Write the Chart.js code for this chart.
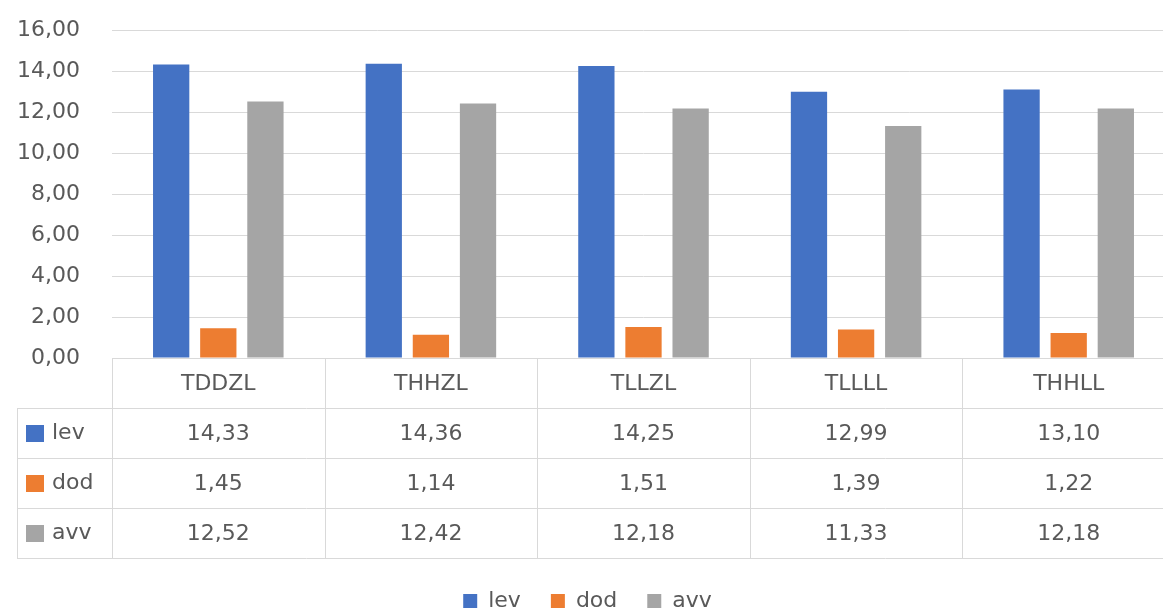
<!DOCTYPE html>
<html>
<head>
<meta charset="utf-8">
<script src="https://cdn.jsdelivr.net/npm/chart.js@4.4.1/dist/chart.umd.min.js"></script>
<style>
  html, body { margin: 0; padding: 0; background: #fff; overflow: hidden; }
  #wrap { width: 1180px; height: 637px; margin-top: -15px; position: relative; }
</style>
</head>
<body>
<div id="wrap"><canvas id="myChart"></canvas></div>
<script>
// data
let categories = ['TDDZL', 'THHZL', 'TLLZL', 'TLLLL', 'THHLL'];
let lev = [14.33, 14.36, 14.25, 12.99, 13.10];
let dod = [1.45, 1.14, 1.51, 1.39, 1.22];
let avv = [12.52, 12.42, 12.18, 11.33, 12.18];
let seriesNames = ['lev', 'dod', 'avv'];
let yTicks = [0, 2, 4, 6, 8, 10, 12, 14, 16];

const textColor = '#595959';
const lineColor = '#d9d9d9';
const fontFamily = '"DejaVu Sans", sans-serif';
const fontSize = 22;

function fmt(v) {
  return v.toFixed(2).replace('.', ',');
}

// draws the data table under the plot, using the x scale for columns
const tablePlugin = {
  id: 'dataTable',
  afterDraw(chart) {
    const ctx = chart.ctx;
    const area = chart.chartArea;
    const x = chart.scales.x;
    const colW = (area.right - area.left) / categories.length;
    const rowH = 50;
    const top = Math.round(area.bottom);
    const tableLeft = 17;
    const right = area.right;
    const rows = chart.data.datasets;

    ctx.save();
    ctx.strokeStyle = lineColor;
    ctx.lineWidth = 1;
    ctx.beginPath();
    // header top line
    ctx.moveTo(area.left, top + 0.5);
    ctx.lineTo(right, top + 0.5);
    // row lines
    for (let r = 1; r <= rows.length + 1; r++) {
      ctx.moveTo(tableLeft, top + r * rowH + 0.5);
      ctx.lineTo(right, top + r * rowH + 0.5);
    }
    // left border of the series column
    ctx.moveTo(tableLeft + 0.5, top + rowH);
    ctx.lineTo(tableLeft + 0.5, top + (rows.length + 1) * rowH);
    // column borders
    for (let i = 0; i <= categories.length; i++) {
      let cx = i < categories.length ? x.getPixelForValue(i) - colW / 2 : x.getPixelForValue(i - 1) + colW / 2;
      cx = Math.round(cx) + 0.5;
      ctx.moveTo(cx, top);
      ctx.lineTo(cx, top + (rows.length + 1) * rowH);
    }
    ctx.stroke();

    ctx.font = fontSize + 'px ' + fontFamily;
    ctx.fillStyle = textColor;
    ctx.textAlign = 'center';
    ctx.textBaseline = 'middle';
    for (let i = 0; i < categories.length; i++) {
      ctx.fillText(categories[i], x.getPixelForValue(i), top + rowH / 2 + 1);
    }
    for (let r = 0; r < rows.length; r++) {
      const cy = top + (r + 1) * rowH + rowH / 2 + 1;
      for (let i = 0; i < categories.length; i++) {
        ctx.fillStyle = textColor;
        ctx.fillText(fmt(rows[r].data[i]), x.getPixelForValue(i), cy);
      }
      // series key
      ctx.fillStyle = rows[r].backgroundColor;
      ctx.fillRect(26, cy - 9, 18, 17);
      ctx.fillStyle = textColor;
      ctx.textAlign = 'left';
      ctx.fillText(rows[r].label, 52, cy - 1);
      ctx.textAlign = 'center';
    }
    ctx.restore();
  }
};

let ctx = document.getElementById('myChart').getContext('2d');
let chart = new Chart(ctx, {
  type: 'bar',
  data: {
    labels: categories,
    datasets: [{
      label: seriesNames[0],
      backgroundColor: '#4472C4',
      data: lev
    },
    {
      label: seriesNames[1],
      backgroundColor: '#ED7D31',
      data: dod
    },
    {
      label: seriesNames[2],
      backgroundColor: '#A5A5A5',
      data: avv
    }]
  },
  options: {
    responsive: true,
    maintainAspectRatio: false,
    animation: false,
    layout: { padding: { top: 15, right: 5, left: 0, bottom: 0 } },
    datasets: {
      bar: { categoryPercentage: 0.665, barPercentage: 0.77 }
    },
    scales: {
      x: {
        grid: { display: false },
        border: { display: false },
        ticks: { display: false },
        afterFit(scale) { scale.height = 202; }
      },
      y: {
        min: 0,
        max: 16,
        afterBuildTicks(scale) {
          scale.ticks = yTicks.map(v => ({ value: v }));
        },
        afterFit(scale) { scale.width = 112; },
        grid: { color: lineColor, drawTicks: false },
        border: { display: false },
        ticks: {
          padding: 32,
          color: textColor,
          font: { family: fontFamily, size: fontSize },
          callback: v => fmt(v)
        }
      }
    },
    plugins: {
      legend: {
        position: 'bottom',
        labels: {
          boxWidth: 14,
          boxHeight: 14,
          padding: 30,
          color: textColor,
          font: { family: fontFamily, size: fontSize }
        }
      },
      tooltip: { enabled: false }
    }
  },
  plugins: [tablePlugin]
});
</script>
</body>
</html>
